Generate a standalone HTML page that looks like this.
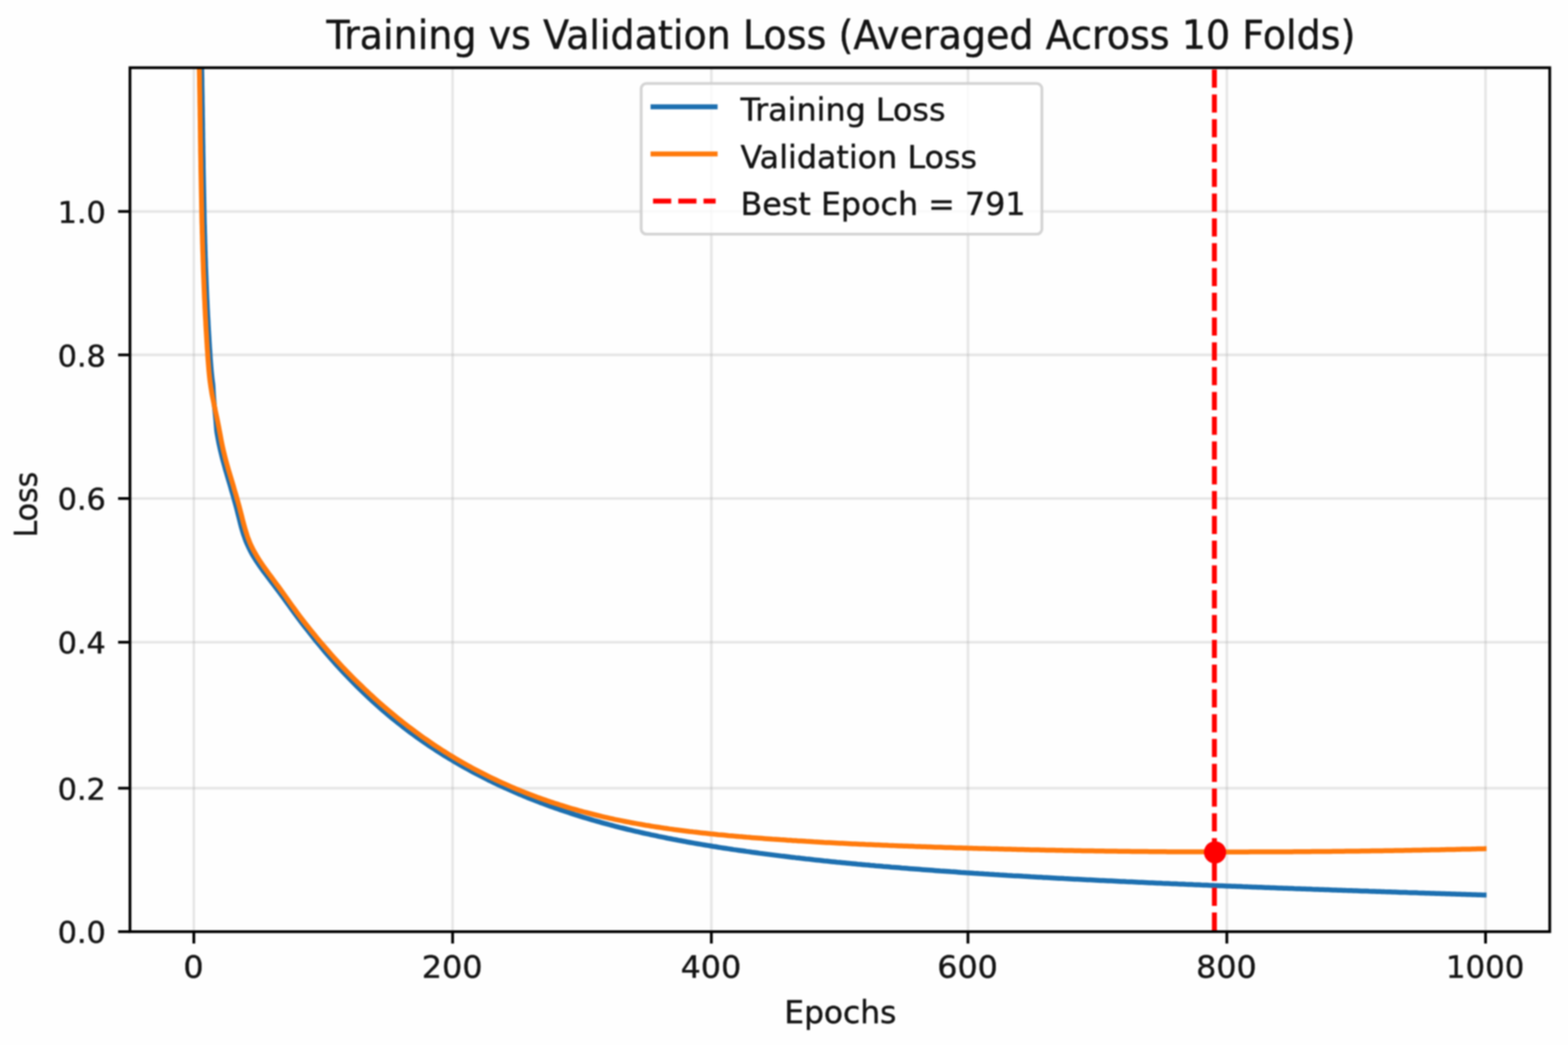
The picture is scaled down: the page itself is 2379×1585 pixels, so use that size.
<!DOCTYPE html>
<html lang="en">
<head>
<meta charset="utf-8">
<title>Training vs Validation Loss (Averaged Across 10 Folds)</title>
<style>
html,body{margin:0;padding:0;background:#fefefe;}
body{width:2379px;height:1585px;overflow:hidden;}
svg{display:block;filter:blur(1.25px);}
text{font-family:"DejaVu Sans","Liberation Sans",sans-serif;fill:#141414;stroke:#141414;stroke-width:0.6px;stroke-linejoin:round;}
</style>
</head>
<body>
<svg width="2379" height="1585" viewBox="0 0 2379 1585">
<rect x="-20" y="-20" width="2419" height="1625" fill="#fefefe"/>
<defs><clipPath id="ax"><rect x="197.2" y="102.7" width="2154.1" height="1310.4"/></clipPath></defs>

<g stroke="#b0b0b0" stroke-opacity="0.3" stroke-width="3.90" fill="none">
<line x1="294.1" y1="102.7" x2="294.1" y2="1413.1"/>
<line x1="686.7" y1="102.7" x2="686.7" y2="1413.1"/>
<line x1="1079.3" y1="102.7" x2="1079.3" y2="1413.1"/>
<line x1="1468.6" y1="102.7" x2="1468.6" y2="1413.1"/>
<line x1="1861.4" y1="102.7" x2="1861.4" y2="1413.1"/>
<line x1="2253.9" y1="102.7" x2="2253.9" y2="1413.1"/>
<line x1="197.2" y1="1195.5" x2="2351.3" y2="1195.5"/>
<line x1="197.2" y1="974.1" x2="2351.3" y2="974.1"/>
<line x1="197.2" y1="756.1" x2="2351.3" y2="756.1"/>
<line x1="197.2" y1="538.3" x2="2351.3" y2="538.3"/>
<line x1="197.2" y1="320.7" x2="2351.3" y2="320.7"/>
</g>
<g clip-path="url(#ax)" fill="none" stroke-width="7.50" stroke-linejoin="round">
<path d="M303.0,-20.0 L306.0,102.7 L306.1,107.7 L306.2,112.7 L306.3,117.7 L306.4,122.7 L306.4,127.7 L306.5,132.7 L306.6,137.7 L306.7,142.7 L306.8,147.7 L306.8,152.7 L306.9,157.7 L307.0,162.7 L307.1,167.7 L307.1,172.7 L307.2,177.7 L307.3,182.7 L307.4,187.7 L307.4,192.7 L307.5,197.7 L307.6,202.7 L307.6,207.7 L307.7,212.7 L307.8,217.7 L307.9,222.7 L307.9,227.7 L308.0,232.7 L308.1,237.7 L308.2,242.7 L308.3,247.7 L308.3,252.7 L308.4,257.7 L308.5,262.7 L308.6,267.7 L308.7,272.7 L308.8,277.7 L308.9,282.7 L309.0,287.7 L309.1,292.7 L309.2,297.7 L309.3,302.7 L309.4,307.7 L309.5,312.7 L309.6,317.7 L309.7,322.7 L309.8,327.7 L309.9,332.7 L310.0,337.7 L310.2,342.7 L310.3,347.7 L310.4,352.7 L310.6,357.7 L310.7,362.7 L310.8,367.7 L311.0,372.7 L311.1,377.7 L311.3,382.7 L311.4,387.7 L311.6,392.7 L311.8,397.7 L311.9,402.7 L312.1,407.7 L312.3,412.7 L312.5,417.7 L312.7,422.7 L312.9,427.7 L313.1,432.7 L313.3,437.7 L313.5,442.7 L313.7,447.7 L313.9,452.7 L314.2,457.7 L314.4,462.7 L314.6,467.7 L314.9,472.7 L315.1,477.7 L315.4,482.7 L315.7,487.7 L315.9,492.7 L316.2,497.7 L316.5,502.7 L316.8,507.7 L317.1,512.7 L317.4,517.7 L317.7,522.7 L318.0,527.7 L318.4,532.7 L318.7,537.7 L319.0,542.7 L319.4,547.7 L319.8,552.7 L320.2,557.7 L320.6,562.7 L321.1,567.7 L321.6,572.7 L322.2,577.7 L322.9,582.7 L323.3,587.7 L323.5,592.7 L323.8,597.7 L324.2,602.7 L324.6,607.7 L325.0,612.7 L325.5,617.7 L326.0,622.7 L326.5,627.7 L327.0,632.7 L327.5,637.7 L327.9,642.7 L328.3,647.7 L328.7,652.7 L329.4,657.7 L330.3,662.7 L331.2,667.7 L332.2,672.7 L333.3,677.7 L334.4,682.7 L335.6,687.7 L336.8,692.7 L338.1,697.7 L339.5,702.7 L340.9,707.8 L342.3,712.9 L343.8,718.0 L345.3,723.1 L346.8,728.2 L348.3,733.2 L349.8,738.3 L351.2,743.4 L352.7,748.5 L354.2,753.6 L355.6,758.7 L357.0,763.7 L358.4,768.8 L359.7,773.9 L361.0,779.0 L362.3,784.1 L363.6,789.2 L364.8,794.2 L366.1,799.3 L367.6,804.4 L369.1,809.5 L370.9,814.6 L372.7,819.7 L374.8,824.7 L377.1,829.8 L379.6,834.9 L382.3,840.0 L385.3,845.1 L388.4,850.1 L391.8,855.1 L395.2,860.1 L399.8,866.5 L403.8,871.8 L407.7,877.0 L411.6,882.1 L415.5,887.3 L419.4,892.4 L423.4,897.7 L427.3,903.0 L431.2,908.3 L435.1,913.7 L439.0,919.1 L442.9,924.5 L446.9,929.9 L450.8,935.2 L454.7,940.5 L458.6,945.6 L462.5,950.7 L466.5,955.8 L470.4,960.8 L474.3,965.7 L478.2,970.6 L482.1,975.4 L486.1,980.1 L490.0,984.8 L493.9,989.5 L497.8,994.0 L501.7,998.5 L505.7,1003.0 L509.6,1007.4 L513.5,1011.7 L517.4,1016.0 L521.3,1020.2 L525.3,1024.3 L529.2,1028.5 L533.1,1032.5 L537.0,1036.5 L540.9,1040.4 L544.9,1044.3 L548.8,1048.1 L552.7,1051.9 L556.6,1055.6 L560.5,1059.3 L564.5,1062.9 L568.4,1066.4 L572.3,1069.9 L576.2,1073.4 L580.1,1076.8 L584.0,1080.2 L588.0,1083.5 L591.9,1086.8 L595.8,1090.0 L599.7,1093.2 L603.6,1096.3 L607.6,1099.4 L611.5,1102.5 L615.4,1105.5 L619.3,1108.5 L623.2,1111.4 L627.2,1114.3 L631.1,1117.1 L635.0,1119.9 L638.9,1122.7 L642.8,1125.4 L646.8,1128.1 L650.7,1130.8 L654.6,1133.4 L658.5,1136.0 L662.4,1138.5 L666.4,1141.0 L670.3,1143.5 L674.2,1146.0 L678.1,1148.4 L682.0,1150.8 L686.0,1153.1 L689.9,1155.5 L693.8,1157.7 L697.7,1160.0 L701.6,1162.2 L705.6,1164.4 L709.5,1166.6 L713.4,1168.8 L717.3,1170.9 L721.2,1172.9 L725.2,1175.0 L729.1,1177.0 L733.0,1179.0 L736.9,1181.0 L740.8,1183.0 L744.8,1184.9 L748.7,1186.8 L752.6,1188.7 L756.5,1190.5 L760.4,1192.3 L764.4,1194.2 L768.3,1195.9 L772.2,1197.7 L776.1,1199.4 L780.0,1201.1 L784.0,1202.8 L787.9,1204.5 L791.8,1206.1 L795.7,1207.8 L799.6,1209.4 L803.5,1210.9 L807.5,1212.5 L811.4,1214.0 L815.3,1215.6 L819.2,1217.1 L823.1,1218.5 L827.1,1220.0 L831.0,1221.5 L834.9,1222.9 L838.8,1224.3 L842.7,1225.7 L846.7,1227.0 L850.6,1228.4 L854.5,1229.7 L858.4,1231.0 L862.3,1232.3 L866.3,1233.6 L870.2,1234.9 L874.1,1236.2 L878.0,1237.4 L881.9,1238.6 L885.9,1239.8 L889.8,1241.0 L893.7,1242.2 L897.6,1243.3 L901.5,1244.5 L905.5,1245.6 L909.4,1246.7 L913.3,1247.8 L917.2,1248.9 L921.1,1249.9 L925.1,1251.0 L929.0,1252.0 L932.9,1253.1 L936.8,1254.1 L940.7,1255.1 L944.6,1256.0 L948.6,1257.0 L952.5,1258.0 L956.4,1258.9 L960.3,1259.9 L964.2,1260.8 L968.2,1261.7 L972.1,1262.6 L976.0,1263.5 L979.9,1264.3 L983.9,1265.2 L987.8,1266.1 L991.7,1266.9 L995.6,1267.7 L999.5,1268.6 L1003.5,1269.4 L1007.4,1270.2 L1011.3,1271.0 L1015.2,1271.8 L1019.1,1272.5 L1023.0,1273.3 L1027.0,1274.0 L1030.9,1274.8 L1034.8,1275.5 L1038.7,1276.2 L1042.6,1277.0 L1046.6,1277.7 L1050.5,1278.4 L1054.4,1279.1 L1058.3,1279.8 L1062.2,1280.4 L1066.2,1281.1 L1070.1,1281.8 L1074.0,1282.4 L1077.9,1283.0 L1081.8,1283.7 L1085.8,1284.3 L1089.7,1285.0 L1093.6,1285.6 L1097.5,1286.2 L1101.4,1286.8 L1105.4,1287.4 L1109.3,1288.0 L1113.2,1288.6 L1117.1,1289.1 L1121.0,1289.7 L1125.0,1290.3 L1128.9,1290.8 L1132.8,1291.4 L1136.7,1291.9 L1140.6,1292.5 L1144.5,1293.0 L1148.5,1293.5 L1152.4,1294.1 L1156.3,1294.6 L1160.2,1295.1 L1164.2,1295.6 L1168.1,1296.1 L1172.0,1296.6 L1175.9,1297.1 L1179.8,1297.6 L1183.8,1298.1 L1187.7,1298.6 L1191.6,1299.0 L1195.5,1299.5 L1199.4,1300.0 L1203.3,1300.4 L1207.3,1300.9 L1211.2,1301.3 L1215.1,1301.8 L1219.0,1302.2 L1223.0,1302.7 L1226.9,1303.1 L1230.8,1303.5 L1234.7,1304.0 L1238.6,1304.4 L1242.5,1304.8 L1246.5,1305.2 L1250.4,1305.7 L1254.3,1306.1 L1258.2,1306.5 L1262.1,1306.9 L1266.1,1307.3 L1270.0,1307.7 L1273.9,1308.0 L1277.8,1308.4 L1281.7,1308.8 L1285.7,1309.2 L1289.6,1309.6 L1293.5,1309.9 L1297.4,1310.3 L1301.3,1310.7 L1305.3,1311.0 L1309.2,1311.4 L1313.1,1311.8 L1317.0,1312.1 L1320.9,1312.5 L1324.8,1312.8 L1328.8,1313.2 L1332.7,1313.5 L1336.6,1313.8 L1340.5,1314.2 L1344.5,1314.5 L1348.4,1314.8 L1352.3,1315.2 L1356.2,1315.5 L1360.1,1315.8 L1364.0,1316.1 L1368.0,1316.5 L1371.9,1316.8 L1375.8,1317.1 L1379.7,1317.4 L1383.7,1317.7 L1387.6,1318.0 L1391.5,1318.3 L1395.4,1318.6 L1399.3,1318.9 L1403.2,1319.2 L1407.2,1319.5 L1411.1,1319.8 L1415.0,1320.1 L1418.9,1320.4 L1422.8,1320.7 L1426.8,1321.0 L1430.7,1321.2 L1434.6,1321.5 L1438.5,1321.8 L1442.4,1322.1 L1446.4,1322.3 L1450.3,1322.6 L1454.2,1322.9 L1458.1,1323.2 L1462.0,1323.4 L1466.0,1323.7 L1469.9,1323.9 L1473.8,1324.2 L1477.7,1324.5 L1481.6,1324.7 L1485.6,1325.0 L1489.5,1325.2 L1493.4,1325.5 L1497.3,1325.7 L1501.2,1326.0 L1505.2,1326.2 L1509.1,1326.5 L1513.0,1326.7 L1516.9,1327.0 L1520.8,1327.2 L1524.8,1327.4 L1528.7,1327.7 L1532.6,1327.9 L1536.5,1328.2 L1540.4,1328.4 L1544.3,1328.6 L1548.3,1328.8 L1552.2,1329.1 L1556.1,1329.3 L1560.0,1329.5 L1564.0,1329.8 L1567.9,1330.0 L1571.8,1330.2 L1575.7,1330.4 L1579.6,1330.6 L1583.5,1330.9 L1587.5,1331.1 L1591.4,1331.3 L1595.3,1331.5 L1599.2,1331.7 L1603.2,1331.9 L1607.1,1332.2 L1611.0,1332.3 L1614.9,1332.6 L1618.8,1332.8 L1622.7,1333.0 L1626.7,1333.2 L1630.6,1333.4 L1634.5,1333.6 L1638.4,1333.8 L1642.3,1334.0 L1646.3,1334.2 L1650.2,1334.4 L1654.1,1334.6 L1658.0,1334.8 L1661.9,1335.0 L1665.9,1335.2 L1669.8,1335.4 L1673.7,1335.6 L1677.6,1335.8 L1681.5,1336.0 L1685.5,1336.1 L1689.4,1336.3 L1693.3,1336.5 L1697.2,1336.7 L1701.1,1336.9 L1705.1,1337.1 L1709.0,1337.3 L1712.9,1337.4 L1716.8,1337.6 L1720.7,1337.8 L1724.7,1338.0 L1728.6,1338.2 L1732.5,1338.3 L1736.4,1338.5 L1740.3,1338.7 L1744.2,1338.9 L1748.2,1339.0 L1752.1,1339.2 L1756.0,1339.4 L1759.9,1339.6 L1763.8,1339.8 L1767.8,1339.9 L1771.7,1340.1 L1775.6,1340.3 L1779.5,1340.4 L1783.5,1340.6 L1787.4,1340.8 L1791.3,1340.9 L1795.2,1341.1 L1799.1,1341.3 L1803.0,1341.4 L1807.0,1341.6 L1810.9,1341.8 L1814.8,1341.9 L1818.7,1342.1 L1822.6,1342.3 L1826.6,1342.4 L1830.5,1342.6 L1834.4,1342.8 L1838.3,1342.9 L1842.2,1343.1 L1846.2,1343.2 L1850.1,1343.4 L1854.0,1343.5 L1857.9,1343.7 L1861.8,1343.9 L1865.8,1344.0 L1869.7,1344.2 L1873.6,1344.3 L1877.5,1344.5 L1881.4,1344.6 L1885.4,1344.8 L1889.3,1344.9 L1893.2,1345.1 L1897.1,1345.2 L1901.0,1345.4 L1905.0,1345.5 L1908.9,1345.7 L1912.8,1345.8 L1916.7,1346.0 L1920.6,1346.2 L1924.5,1346.3 L1928.5,1346.5 L1932.4,1346.6 L1936.3,1346.7 L1940.2,1346.9 L1944.2,1347.0 L1948.1,1347.2 L1952.0,1347.3 L1955.9,1347.5 L1959.8,1347.6 L1963.8,1347.8 L1967.7,1347.9 L1971.6,1348.0 L1975.5,1348.2 L1979.4,1348.3 L1983.3,1348.5 L1987.3,1348.6 L1991.2,1348.8 L1995.1,1348.9 L1999.0,1349.0 L2003.0,1349.2 L2006.9,1349.3 L2010.8,1349.5 L2014.7,1349.6 L2018.6,1349.7 L2022.5,1349.9 L2026.5,1350.0 L2030.4,1350.2 L2034.3,1350.3 L2038.2,1350.4 L2042.1,1350.6 L2046.1,1350.7 L2050.0,1350.8 L2053.9,1351.0 L2057.8,1351.1 L2061.7,1351.2 L2065.7,1351.4 L2069.6,1351.5 L2073.5,1351.6 L2077.4,1351.8 L2081.3,1351.9 L2085.3,1352.0 L2089.2,1352.2 L2093.1,1352.3 L2097.0,1352.4 L2100.9,1352.6 L2104.9,1352.7 L2108.8,1352.8 L2112.7,1353.0 L2116.6,1353.1 L2120.5,1353.2 L2124.4,1353.4 L2128.4,1353.5 L2132.3,1353.6 L2136.2,1353.8 L2140.1,1353.9 L2144.1,1354.0 L2148.0,1354.1 L2151.9,1354.3 L2155.8,1354.4 L2159.7,1354.5 L2163.7,1354.7 L2167.6,1354.8 L2171.5,1354.9 L2175.4,1355.0 L2179.3,1355.2 L2183.2,1355.3 L2187.2,1355.4 L2191.1,1355.5 L2195.0,1355.7 L2198.9,1355.8 L2202.8,1355.9 L2206.8,1356.0 L2210.7,1356.2 L2214.6,1356.3 L2218.5,1356.4 L2222.4,1356.5 L2226.4,1356.7 L2230.3,1356.8 L2234.2,1356.9 L2238.1,1357.0 L2242.0,1357.2 L2246.0,1357.3 L2249.9,1357.4 L2253.8,1357.5 L2255.4,1357.5" stroke="#1c6fb0"/>
<path d="M299.4,-20.0 L302.4,102.7 L302.5,107.7 L302.6,112.7 L302.7,117.7 L302.8,122.7 L302.8,127.7 L302.9,132.7 L303.0,137.7 L303.1,142.7 L303.2,147.7 L303.2,152.7 L303.3,157.7 L303.4,162.7 L303.5,167.7 L303.5,172.7 L303.6,177.7 L303.7,182.7 L303.8,187.7 L303.8,192.7 L303.9,197.7 L304.0,202.7 L304.0,207.7 L304.1,212.7 L304.2,217.7 L304.3,222.7 L304.3,227.7 L304.4,232.7 L304.5,237.7 L304.6,242.7 L304.7,247.7 L304.7,252.7 L304.8,257.7 L304.9,262.7 L305.0,267.7 L305.1,272.7 L305.2,277.7 L305.3,282.7 L305.4,287.7 L305.5,292.7 L305.6,297.7 L305.7,302.7 L305.8,307.7 L305.9,312.7 L306.0,317.7 L306.1,322.7 L306.2,327.7 L306.3,332.7 L306.4,337.7 L306.6,342.7 L306.7,347.7 L306.8,352.7 L307.0,357.7 L307.1,362.7 L307.2,367.7 L307.4,372.7 L307.5,377.7 L307.7,382.7 L307.9,387.7 L308.0,392.7 L308.2,397.7 L308.4,402.7 L308.5,407.7 L308.7,412.7 L308.9,417.7 L309.1,422.7 L309.3,427.7 L309.5,432.7 L309.7,437.7 L309.9,442.7 L310.1,447.7 L310.3,452.7 L310.6,457.7 L310.8,462.7 L311.0,467.7 L311.3,472.7 L311.5,477.7 L311.8,482.7 L312.1,487.7 L312.3,492.7 L312.6,497.7 L312.9,502.7 L313.2,507.7 L313.5,512.7 L313.8,517.7 L314.1,522.7 L314.4,527.7 L314.8,532.7 L315.1,537.7 L315.4,542.7 L315.8,547.7 L316.2,552.7 L316.6,557.7 L317.0,562.7 L317.5,567.7 L318.0,572.7 L318.6,577.7 L319.3,582.7 L320.0,587.7 L320.8,592.7 L321.6,597.7 L322.6,602.7 L323.6,607.7 L324.6,612.7 L325.7,617.7 L326.7,622.7 L327.8,627.7 L328.9,632.7 L329.9,637.7 L330.9,642.7 L331.9,647.7 L332.8,652.7 L333.8,657.7 L334.7,662.7 L335.6,667.7 L336.6,672.7 L337.7,677.7 L338.8,682.7 L340.0,687.7 L341.2,692.7 L342.5,697.7 L343.9,702.7 L345.3,707.7 L346.7,712.7 L348.2,717.7 L349.7,722.7 L351.2,727.7 L352.7,732.7 L354.2,737.7 L355.6,742.7 L357.1,747.7 L358.6,752.7 L360.0,757.7 L361.4,762.7 L362.8,767.7 L364.1,772.7 L365.4,777.7 L366.7,782.7 L367.9,787.7 L369.2,792.7 L370.6,797.7 L372.0,802.7 L373.5,807.7 L375.1,812.7 L376.9,817.7 L378.9,822.7 L381.1,827.7 L383.6,832.7 L386.3,837.7 L389.2,842.7 L392.3,847.7 L395.6,852.7 L399.8,859.0 L403.8,864.5 L407.7,869.9 L411.6,875.1 L415.5,880.4 L419.4,885.7 L423.4,891.1 L427.3,896.5 L431.2,901.9 L435.1,907.4 L439.0,912.9 L442.9,918.4 L446.9,923.8 L450.8,929.2 L454.7,934.5 L458.6,939.6 L462.5,944.6 L466.5,949.6 L470.4,954.5 L474.3,959.4 L478.2,964.2 L482.1,969.0 L486.1,973.6 L490.0,978.2 L493.9,982.8 L497.8,987.3 L501.7,991.8 L505.7,996.2 L509.6,1000.5 L513.5,1004.8 L517.4,1009.0 L521.3,1013.2 L525.3,1017.3 L529.2,1021.3 L533.1,1025.3 L537.0,1029.3 L540.9,1033.2 L544.9,1037.0 L548.8,1040.8 L552.7,1044.6 L556.6,1048.3 L560.5,1052.0 L564.5,1055.6 L568.4,1059.2 L572.3,1062.7 L576.2,1066.2 L580.1,1069.6 L584.0,1073.0 L588.0,1076.3 L591.9,1079.6 L595.8,1082.9 L599.7,1086.1 L603.6,1089.3 L607.6,1092.5 L611.5,1095.6 L615.4,1098.6 L619.3,1101.7 L623.2,1104.6 L627.2,1107.6 L631.1,1110.5 L635.0,1113.3 L638.9,1116.2 L642.8,1119.0 L646.8,1121.7 L650.7,1124.4 L654.6,1127.1 L658.5,1129.8 L662.4,1132.4 L666.4,1134.9 L670.3,1137.5 L674.2,1140.0 L678.1,1142.4 L682.0,1144.9 L686.0,1147.2 L689.9,1149.6 L693.8,1151.9 L697.7,1154.2 L701.6,1156.5 L705.6,1158.7 L709.5,1160.9 L713.4,1163.1 L717.3,1165.2 L721.2,1167.3 L725.2,1169.4 L729.1,1171.4 L733.0,1173.4 L736.9,1175.4 L740.8,1177.3 L744.8,1179.3 L748.7,1181.2 L752.6,1183.0 L756.5,1184.8 L760.4,1186.7 L764.4,1188.4 L768.3,1190.2 L772.2,1191.9 L776.1,1193.6 L780.0,1195.3 L784.0,1196.9 L787.9,1198.5 L791.8,1200.1 L795.7,1201.7 L799.6,1203.2 L803.5,1204.8 L807.5,1206.3 L811.4,1207.7 L815.3,1209.2 L819.2,1210.6 L823.1,1212.0 L827.1,1213.4 L831.0,1214.7 L834.9,1216.1 L838.8,1217.4 L842.7,1218.7 L846.7,1219.9 L850.6,1221.2 L854.5,1222.4 L858.4,1223.6 L862.3,1224.8 L866.3,1226.0 L870.2,1227.1 L874.1,1228.2 L878.0,1229.3 L881.9,1230.4 L885.9,1231.5 L889.8,1232.5 L893.7,1233.5 L897.6,1234.5 L901.5,1235.5 L905.5,1236.5 L909.4,1237.4 L913.3,1238.4 L917.2,1239.3 L921.1,1240.2 L925.1,1241.1 L929.0,1241.9 L932.9,1242.8 L936.8,1243.6 L940.7,1244.4 L944.6,1245.2 L948.6,1246.0 L952.5,1246.7 L956.4,1247.5 L960.3,1248.2 L964.2,1248.9 L968.2,1249.6 L972.1,1250.3 L976.0,1251.0 L979.9,1251.7 L983.9,1252.3 L987.8,1253.0 L991.7,1253.6 L995.6,1254.2 L999.5,1254.8 L1003.5,1255.4 L1007.4,1256.0 L1011.3,1256.5 L1015.2,1257.1 L1019.1,1257.6 L1023.0,1258.2 L1027.0,1258.7 L1030.9,1259.2 L1034.8,1259.7 L1038.7,1260.2 L1042.6,1260.7 L1046.6,1261.2 L1050.5,1261.6 L1054.4,1262.1 L1058.3,1262.5 L1062.2,1263.0 L1066.2,1263.4 L1070.1,1263.8 L1074.0,1264.2 L1077.9,1264.7 L1081.8,1265.1 L1085.8,1265.5 L1089.7,1265.9 L1093.6,1266.2 L1097.5,1266.6 L1101.4,1267.0 L1105.4,1267.4 L1109.3,1267.7 L1113.2,1268.1 L1117.1,1268.4 L1121.0,1268.8 L1125.0,1269.1 L1128.9,1269.4 L1132.8,1269.8 L1136.7,1270.1 L1140.6,1270.4 L1144.5,1270.7 L1148.5,1271.0 L1152.4,1271.3 L1156.3,1271.6 L1160.2,1271.9 L1164.2,1272.2 L1168.1,1272.5 L1172.0,1272.8 L1175.9,1273.0 L1179.8,1273.3 L1183.8,1273.6 L1187.7,1273.8 L1191.6,1274.1 L1195.5,1274.4 L1199.4,1274.6 L1203.3,1274.9 L1207.3,1275.1 L1211.2,1275.4 L1215.1,1275.6 L1219.0,1275.8 L1223.0,1276.1 L1226.9,1276.3 L1230.8,1276.5 L1234.7,1276.8 L1238.6,1277.0 L1242.5,1277.2 L1246.5,1277.4 L1250.4,1277.7 L1254.3,1277.9 L1258.2,1278.1 L1262.1,1278.3 L1266.1,1278.5 L1270.0,1278.7 L1273.9,1278.9 L1277.8,1279.1 L1281.7,1279.3 L1285.7,1279.5 L1289.6,1279.7 L1293.5,1279.9 L1297.4,1280.0 L1301.3,1280.2 L1305.3,1280.4 L1309.2,1280.6 L1313.1,1280.8 L1317.0,1280.9 L1320.9,1281.1 L1324.8,1281.3 L1328.8,1281.5 L1332.7,1281.6 L1336.6,1281.8 L1340.5,1282.0 L1344.5,1282.1 L1348.4,1282.3 L1352.3,1282.4 L1356.2,1282.6 L1360.1,1282.7 L1364.0,1282.9 L1368.0,1283.0 L1371.9,1283.2 L1375.8,1283.3 L1379.7,1283.5 L1383.7,1283.6 L1387.6,1283.8 L1391.5,1283.9 L1395.4,1284.0 L1399.3,1284.2 L1403.2,1284.3 L1407.2,1284.5 L1411.1,1284.6 L1415.0,1284.7 L1418.9,1284.9 L1422.8,1285.0 L1426.8,1285.1 L1430.7,1285.2 L1434.6,1285.4 L1438.5,1285.5 L1442.4,1285.6 L1446.4,1285.7 L1450.3,1285.9 L1454.2,1286.0 L1458.1,1286.1 L1462.0,1286.2 L1466.0,1286.3 L1469.9,1286.5 L1473.8,1286.6 L1477.7,1286.7 L1481.6,1286.8 L1485.6,1286.9 L1489.5,1287.0 L1493.4,1287.1 L1497.3,1287.2 L1501.2,1287.3 L1505.2,1287.4 L1509.1,1287.5 L1513.0,1287.6 L1516.9,1287.7 L1520.8,1287.8 L1524.8,1287.9 L1528.7,1288.0 L1532.6,1288.1 L1536.5,1288.2 L1540.4,1288.3 L1544.3,1288.4 L1548.3,1288.5 L1552.2,1288.6 L1556.1,1288.7 L1560.0,1288.8 L1564.0,1288.9 L1567.9,1289.0 L1571.8,1289.0 L1575.7,1289.1 L1579.6,1289.2 L1583.5,1289.3 L1587.5,1289.4 L1591.4,1289.5 L1595.3,1289.5 L1599.2,1289.6 L1603.2,1289.7 L1607.1,1289.8 L1611.0,1289.8 L1614.9,1289.9 L1618.8,1290.0 L1622.7,1290.0 L1626.7,1290.1 L1630.6,1290.2 L1634.5,1290.2 L1638.4,1290.3 L1642.3,1290.4 L1646.3,1290.4 L1650.2,1290.5 L1654.1,1290.6 L1658.0,1290.6 L1661.9,1290.7 L1665.9,1290.7 L1669.8,1290.8 L1673.7,1290.8 L1677.6,1290.9 L1681.5,1291.0 L1685.5,1291.0 L1689.4,1291.1 L1693.3,1291.1 L1697.2,1291.2 L1701.1,1291.2 L1705.1,1291.2 L1709.0,1291.3 L1712.9,1291.3 L1716.8,1291.4 L1720.7,1291.4 L1724.7,1291.5 L1728.6,1291.5 L1732.5,1291.5 L1736.4,1291.6 L1740.3,1291.6 L1744.2,1291.7 L1748.2,1291.7 L1752.1,1291.7 L1756.0,1291.8 L1759.9,1291.8 L1763.8,1291.8 L1767.8,1291.8 L1771.7,1291.9 L1775.6,1291.9 L1779.5,1291.9 L1783.5,1291.9 L1787.4,1292.0 L1791.3,1292.0 L1795.2,1292.0 L1799.1,1292.0 L1803.0,1292.0 L1807.0,1292.0 L1810.9,1292.1 L1814.8,1292.1 L1818.7,1292.1 L1822.6,1292.1 L1826.6,1292.1 L1830.5,1292.1 L1834.4,1292.1 L1838.3,1292.2 L1842.2,1292.2 L1846.2,1292.2 L1850.1,1292.2 L1854.0,1292.2 L1857.9,1292.2 L1861.8,1292.2 L1865.8,1292.2 L1869.7,1292.2 L1873.6,1292.2 L1877.5,1292.2 L1881.4,1292.2 L1885.4,1292.2 L1889.3,1292.2 L1893.2,1292.2 L1897.1,1292.1 L1901.0,1292.1 L1905.0,1292.1 L1908.9,1292.1 L1912.8,1292.1 L1916.7,1292.1 L1920.6,1292.1 L1924.5,1292.0 L1928.5,1292.0 L1932.4,1292.0 L1936.3,1292.0 L1940.2,1292.0 L1944.2,1292.0 L1948.1,1291.9 L1952.0,1291.9 L1955.9,1291.9 L1959.8,1291.9 L1963.8,1291.8 L1967.7,1291.8 L1971.6,1291.8 L1975.5,1291.8 L1979.4,1291.7 L1983.3,1291.7 L1987.3,1291.7 L1991.2,1291.6 L1995.1,1291.6 L1999.0,1291.6 L2003.0,1291.5 L2006.9,1291.5 L2010.8,1291.5 L2014.7,1291.4 L2018.6,1291.4 L2022.5,1291.3 L2026.5,1291.3 L2030.4,1291.3 L2034.3,1291.2 L2038.2,1291.2 L2042.1,1291.1 L2046.1,1291.1 L2050.0,1291.0 L2053.9,1291.0 L2057.8,1290.9 L2061.7,1290.9 L2065.7,1290.8 L2069.6,1290.8 L2073.5,1290.7 L2077.4,1290.7 L2081.3,1290.6 L2085.3,1290.6 L2089.2,1290.5 L2093.1,1290.5 L2097.0,1290.4 L2100.9,1290.3 L2104.9,1290.3 L2108.8,1290.2 L2112.7,1290.2 L2116.6,1290.1 L2120.5,1290.0 L2124.4,1290.0 L2128.4,1289.9 L2132.3,1289.8 L2136.2,1289.8 L2140.1,1289.7 L2144.1,1289.6 L2148.0,1289.5 L2151.9,1289.5 L2155.8,1289.4 L2159.7,1289.3 L2163.7,1289.3 L2167.6,1289.2 L2171.5,1289.1 L2175.4,1289.0 L2179.3,1289.0 L2183.2,1288.9 L2187.2,1288.8 L2191.1,1288.7 L2195.0,1288.6 L2198.9,1288.6 L2202.8,1288.5 L2206.8,1288.4 L2210.7,1288.3 L2214.6,1288.2 L2218.5,1288.1 L2222.4,1288.0 L2226.4,1288.0 L2230.3,1287.9 L2234.2,1287.8 L2238.1,1287.7 L2242.0,1287.6 L2246.0,1287.5 L2249.9,1287.4 L2253.8,1287.3 L2255.4,1287.3" stroke="#ff7a0c"/>
<line x1="1842.5" y1="1411.5" x2="1842.5" y2="102.7" stroke="#ff0000" stroke-dasharray="27.50 10.10"/>
<line x1="1842.5" y1="1413.1" x2="1842.5" y2="1410.1" stroke="#ff0000"/>
</g>
<circle cx="1843.5" cy="1292.8" r="16.87" fill="#ff0000"/>
<g stroke="#000" stroke-width="4.20">
<line x1="294.1" y1="1413.1" x2="294.1" y2="1431.1"/>
<line x1="686.7" y1="1413.1" x2="686.7" y2="1431.1"/>
<line x1="1079.3" y1="1413.1" x2="1079.3" y2="1431.1"/>
<line x1="1468.6" y1="1413.1" x2="1468.6" y2="1431.1"/>
<line x1="1861.4" y1="1413.1" x2="1861.4" y2="1431.1"/>
<line x1="2253.9" y1="1413.1" x2="2253.9" y2="1431.1"/>
<line x1="197.2" y1="1413.1" x2="179.2" y2="1413.1"/>
<line x1="197.2" y1="1195.5" x2="179.2" y2="1195.5"/>
<line x1="197.2" y1="974.1" x2="179.2" y2="974.1"/>
<line x1="197.2" y1="756.1" x2="179.2" y2="756.1"/>
<line x1="197.2" y1="538.3" x2="179.2" y2="538.3"/>
<line x1="197.2" y1="320.7" x2="179.2" y2="320.7"/>
</g>
<rect x="197.2" y="102.7" width="2154.1" height="1310.4" fill="none" stroke="#000" stroke-width="4.20"/>
<text transform="translate(293.50,1482.60) scale(1.0000,0.9500)" font-size="48.20" text-anchor="middle">0</text>
<text transform="translate(686.10,1482.60) scale(1.0000,0.9500)" font-size="48.20" text-anchor="middle">200</text>
<text transform="translate(1078.70,1482.60) scale(1.0000,0.9500)" font-size="48.20" text-anchor="middle">400</text>
<text transform="translate(1468.00,1482.60) scale(1.0000,0.9500)" font-size="48.20" text-anchor="middle">600</text>
<text transform="translate(1860.80,1482.60) scale(1.0000,0.9500)" font-size="48.20" text-anchor="middle">800</text>
<text transform="translate(2253.30,1482.60) scale(0.9700,0.9500)" font-size="48.20" text-anchor="middle">1000</text>
<text transform="translate(160.60,1430.40) scale(0.9550,0.9250)" font-size="48.20" text-anchor="end">0.0</text>
<text transform="translate(160.60,1212.80) scale(0.9550,0.9250)" font-size="48.20" text-anchor="end">0.2</text>
<text transform="translate(160.60,991.40) scale(0.9550,0.9250)" font-size="48.20" text-anchor="end">0.4</text>
<text transform="translate(160.60,773.40) scale(0.9550,0.9250)" font-size="48.20" text-anchor="end">0.6</text>
<text transform="translate(160.60,555.60) scale(0.9550,0.9250)" font-size="48.20" text-anchor="end">0.8</text>
<text transform="translate(160.60,338.00) scale(0.9550,0.9250)" font-size="48.20" text-anchor="end">1.0</text>
<text transform="translate(1275.00,1552.20) scale(0.9850,1.0000)" font-size="48.20" text-anchor="middle">Epochs</text>
<text transform="translate(56.20,765.40) rotate(-90) scale(0.9450,1.0000)" font-size="48.20" text-anchor="middle">Loss</text>
<text transform="translate(1275.90,73.70) scale(0.9980,1.0450)" font-size="57.84" text-anchor="middle">Training vs Validation Loss (Averaged Across 10 Folds)</text>
<rect x="972.8" y="126.6" width="608.0" height="228.6" rx="8" fill="#fff" fill-opacity="0.8" stroke="#ccc" stroke-opacity="0.85" stroke-width="4.3"/>
<line x1="990.8" y1="162.0" x2="1085.0" y2="162.0" stroke="#1c6fb0" stroke-width="7.50" stroke-linecap="square"/>
<text transform="translate(1123.40,183.00)" font-size="48.20" text-anchor="start">Training Loss</text>
<line x1="990.8" y1="233.5" x2="1085.0" y2="233.5" stroke="#ff7a0c" stroke-width="7.50" stroke-linecap="square"/>
<text transform="translate(1123.40,254.50)" font-size="48.20" text-anchor="start">Validation Loss</text>
<line x1="990.8" y1="305.0" x2="1085.8" y2="305.0" stroke="#ff0000" stroke-width="7.50" stroke-dasharray="27.6 10.7"/>
<text transform="translate(1123.40,326.00)" font-size="48.20" text-anchor="start">Best Epoch = 791</text>
</svg>
</body>
</html>
